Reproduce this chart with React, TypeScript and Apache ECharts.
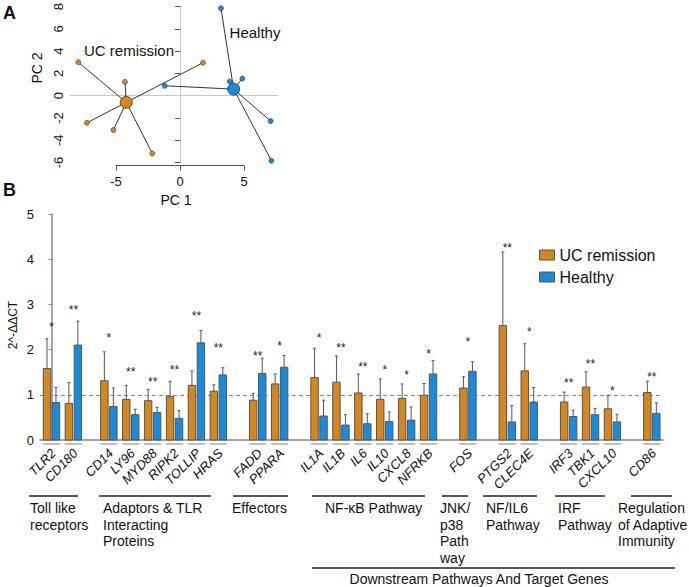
import React, { useEffect, useRef } from "react";
import * as echarts from "echarts";

// ---------- Panel A data (PCA) ----------
const ucPC1 = [-7.94, -4.3, 1.8, -7.27, -5.2, -2.16];
const ucPC2 = [3.0, 1.24, 2.96, -2.43, -3.08, -5.19];
const ucCentroid = [-4.2, -0.6];
const hPC1 = [3.2, 3.88, 4.87, -1.2, 7.08, 7.14];
const hPC2 = [7.85, 1.27, 1.54, 0.89, -2.28, -5.84];
const hCentroid = [4.19, 0.59];
const pc2Ticks = [-6, -4, -2, 0, 2, 4, 6, 8];
const pc1Ticks = [-5, 0, 5];

// ---------- Panel B data ----------
const genes = ["TLR2", "CD180", "CD14", "LY96", "MYD88", "RIPK2", "TOLLIP", "HRAS", "FADD", "PPARA", "IL1A", "IL1B", "IL6", "IL10", "CXCL8", "NFRKB", "FOS", "PTGS2", "CLEC4E", "IRF3", "TBK1", "CXCL10", "CD86"];
const geneGroup = [0, 0, 1, 1, 1, 1, 1, 1, 2, 2, 3, 3, 3, 3, 3, 3, 4, 5, 5, 6, 6, 6, 7];
const ucMean = [1.58, 0.81, 1.31, 0.9, 0.87, 0.96, 1.21, 1.08, 0.88, 1.24, 1.38, 1.28, 1.04, 0.9, 0.92, 0.99, 1.15, 2.53, 1.53, 0.84, 1.17, 0.69, 1.05];
const ucUpper = [2.24, 1.27, 1.95, 1.21, 1.12, 1.3, 1.53, 1.22, 1.03, 1.46, 2.03, 1.86, 1.46, 1.35, 1.24, 1.25, 1.4, 4.16, 2.13, 1.06, 1.51, 0.99, 1.3];
const hMean = [0.83, 2.1, 0.74, 0.56, 0.61, 0.48, 2.15, 1.44, 1.47, 1.61, 0.53, 0.33, 0.36, 0.41, 0.44, 1.46, 1.52, 0.4, 0.84, 0.52, 0.56, 0.4, 0.59];
const hUpper = [1.16, 2.63, 1.15, 0.68, 0.72, 0.65, 2.42, 1.6, 1.81, 1.87, 0.88, 0.56, 0.58, 0.62, 0.73, 1.76, 1.73, 0.76, 1.16, 0.66, 0.7, 0.57, 0.82];
const sig = ["*", "**", "*", "**", "**", "**", "**", "**", "**", "*", "*", "**", "**", "*", "*", "*", "*", "**", "*", "**", "**", "*", "**"];
const sigY = [2.57, 2.94, 2.32, 1.58, 1.35, 1.61, 2.8, 2.11, 1.93, 2.15, 2.32, 2.1, 1.69, 1.61, 1.5, 1.96, 2.24, 4.31, 2.45, 1.33, 1.74, 1.15, 1.47];
const yTicksB = [0, 1, 2, 3, 4, 5];
const seriesNames = ["UC remission", "Healthy"];

// layout: gap (in slot units) inserted before each group
const groupGap = [0, 0.62, 0.8, 0.8, 0.8, 0.8, 0.8, 0.8];
const groupShift = groupGap.map((_, g) => groupGap.slice(0, g + 1).reduce((a, b) => a + b, 0));
const positions = genes.map((_, i) => i + groupShift[geneGroup[i]]);

const ORANGE = "#D4871F";
const BLUE = "#1A8ADB";
const FONT = "Liberation Sans, Arial, sans-serif";

function barSeries(name: string, means: number[], uppers: number[], color: string, side: number) {
  return {
    type: "custom",
    name,
    xAxisIndex: 2,
    yAxisIndex: 2,
    z: 3,
    itemStyle: { color },
    data: means.map((m, i) => [positions[i], m, uppers[i]]),
    encode: { x: 0, y: [1, 2] },
    renderItem: (params: any, api: any) => {
      const x = api.value(0);
      const v = api.value(1);
      const u = api.value(2);
      const unit = api.size([1, 0])[0];
      const w = unit * 0.34;
      const base = api.coord([x, 0]);
      const cx = base[0] + side * unit * 0.205;
      const y0 = base[1];
      const y1 = api.coord([x, v])[1];
      const y2 = api.coord([x, u])[1];
      return {
        type: "group",
        children: [
          { type: "line", shape: { x1: cx, y1: y1, x2: cx, y2: y2 }, style: { stroke: "#555", lineWidth: 1 } },
          { type: "line", shape: { x1: cx - 1.5, y1: y2, x2: cx + 1.5, y2: y2 }, style: { stroke: "#555", lineWidth: 1 } },
          { type: "rect", shape: { x: cx - w / 2, y: y1, width: w, height: y0 - y1 }, style: { fill: color, stroke: "#555", lineWidth: 1 } },
        ],
      };
    },
  };
}

const annotationSeries = {
  type: "custom",
  name: "annotations",
  xAxisIndex: 2,
  yAxisIndex: 2,
  z: 1,
  silent: true,
  data: positions.map((p, i) => [p, sigY[i]]),
  encode: { x: 0, y: 1 },
  renderItem: (params: any, api: any) => {
    const i = params.dataIndex;
    const x = api.value(0);
    const base = api.coord([x, 0]);
    const unit = api.size([1, 0])[0];
    const sy = api.coord([x, api.value(1)])[1];
    return {
      type: "group",
      children: [
        {
          type: "text",
          x: base[0],
          y: sy + 3,
          style: { text: sig[i], font: `12px ${FONT}`, fill: "#222", align: "center", verticalAlign: "middle", textAlign: "center", textVerticalAlign: "middle" },
        },
        {
          type: "line",
          shape: { x1: base[0] - unit * 0.39, y1: base[1] + 4, x2: base[0] + unit * 0.39, y2: base[1] + 4 },
          style: { stroke: "#aaa", lineWidth: 1.5 },
        },
        {
          type: "text",
          x: base[0] + 2,
          y: base[1] + 11,
          rotation: Math.PI / 4,
          style: { text: genes[i], font: `italic 13px ${FONT}`, fill: "#111", align: "right", verticalAlign: "middle", textAlign: "right", textVerticalAlign: "middle" },
        },
      ],
    };
  },
  markLine: {
    silent: true,
    z: 1,
    symbol: ["none", "none"],
    label: { show: false },
    lineStyle: { color: "#888", type: [4, 3], width: 1 },
    data: [{ yAxis: 1 }],
  },
};

const groupLines: [number, number][] = [[29, 78], [99, 211], [233, 288], [312, 425], [442, 468], [483, 537], [555, 605], [631, 672]];
const groupTexts: { t: string; x: number; align?: string }[] = [
  { t: "Toll like\nreceptors", x: 30 },
  { t: "Adaptors & TLR\nInteracting\nProteins", x: 103 },
  { t: "Effectors", x: 232 },
  { t: "NF-κB Pathway", x: 325 },
  { t: "JNK/\np38\nPath\nway", x: 440 },
  { t: "NF/IL6\nPathway", x: 486 },
  { t: "IRF\nPathway", x: 558 },
  { t: "Regulation\nof Adaptive\nImmunity", x: 618 },
];

function buildOption() {
  const graphics: any[] = [];
  graphics.push({ type: "text", left: 3, top: 4, style: { text: "A", font: `bold 18px ${FONT}`, fill: "#111" } });
  graphics.push({ type: "text", left: 3, top: 181, style: { text: "B", font: `bold 18px ${FONT}`, fill: "#111" } });
  graphics.push({ type: "text", x: 129, y: 50, style: { text: "UC remission", font: `15px ${FONT}`, fill: "#111", textAlign: "center", textVerticalAlign: "middle" } });
  graphics.push({ type: "text", x: 255, y: 32, style: { text: "Healthy", font: `15px ${FONT}`, fill: "#111", textAlign: "center", textVerticalAlign: "middle" } });
  graphics.push({ type: "text", x: 37, y: 68, rotation: Math.PI / 2, style: { text: "PC 2", font: `14px ${FONT}`, fill: "#111", textAlign: "center", textVerticalAlign: "middle" } });
  graphics.push({ type: "text", x: 176, y: 200, style: { text: "PC 1", font: `14px ${FONT}`, fill: "#111", textAlign: "center", textVerticalAlign: "middle" } });
  graphics.push({ type: "text", x: 13, y: 325, rotation: Math.PI / 2, style: { text: "2^-ΔΔCT", font: `12px ${FONT}`, fill: "#111", textAlign: "center", textVerticalAlign: "middle" } });
  groupLines.forEach(([a, b]) => {
    graphics.push({ type: "line", shape: { x1: a, y1: 496, x2: b, y2: 496 }, style: { stroke: "#222", lineWidth: 1.5 } });
  });
  groupTexts.forEach((g) => {
    graphics.push({ type: "text", x: g.x, y: 500, style: { text: g.t, font: `14px ${FONT}`, fill: "#111", lineHeight: 16.5, textAlign: "left", textVerticalAlign: "top" } });
  });
  graphics.push({ type: "line", shape: { x1: 312, y1: 568, x2: 675, y2: 568 }, style: { stroke: "#222", lineWidth: 1.5 } });
  graphics.push({ type: "text", x: 479, y: 579, style: { text: "Downstream Pathways And Target Genes", font: `14px ${FONT}`, fill: "#111", textAlign: "center", textVerticalAlign: "middle" } });

  const ucPts = ucPC1.map((x, i) => [x, ucPC2[i]]);
  const hPts = hPC1.map((x, i) => [x, hPC2[i]]);

  return {
    animation: false,
    textStyle: { fontFamily: FONT },
    grid: [
      { left: 70, top: 5, width: 208, height: 157.5 },
      { left: 116, top: 150, width: 128, height: 15.7 },
      { left: 40, top: 214, width: 623, height: 226 },
    ],
    xAxis: [
      { gridIndex: 0, type: "value", min: -8.594, max: 7.656, show: false },
      {
        gridIndex: 1, type: "value", min: pc1Ticks[0], max: pc1Ticks[pc1Ticks.length - 1], interval: 5,
        axisLine: { lineStyle: { color: "#555", width: 1 } },
        axisTick: { length: 5, lineStyle: { color: "#555" } },
        axisLabel: { fontSize: 13, color: "#111", margin: 9 },
        splitLine: { show: false },
      },
      {
        gridIndex: 2, type: "value", min: -0.525, max: 27.93,
        axisLine: { lineStyle: { color: "#888", width: 1.5 } },
        axisTick: { show: false }, axisLabel: { show: false }, splitLine: { show: false },
      },
    ],
    yAxis: [
      {
        gridIndex: 0, type: "value", min: pc2Ticks[0], max: pc2Ticks[pc2Ticks.length - 1], interval: 2,
        axisLine: { show: true, lineStyle: { color: "#555", width: 1 } },
        axisTick: { show: true, length: 5, lineStyle: { color: "#555" } },
        axisLabel: { fontSize: 13, color: "#111", rotate: 90, margin: 12, verticalAlign: "middle" },
        splitLine: { show: false },
      },
      { gridIndex: 1, type: "value", show: false },
      {
        gridIndex: 2, type: "value", min: yTicksB[0], max: yTicksB[yTicksB.length - 1], interval: 1,
        axisLine: { show: true, lineStyle: { color: "#888", width: 1.5 } },
        axisTick: { show: true, length: 3, lineStyle: { color: "#888" } },
        axisLabel: { fontSize: 13, color: "#111", margin: 6 },
        splitLine: { show: false },
      },
    ],
    legend: {
      left: 534, top: 242, orient: "vertical", itemWidth: 15, itemHeight: 10, itemGap: 6,
      textStyle: { fontSize: 16, color: "#111" },
      data: [
        { name: seriesNames[0], icon: "rect", itemStyle: { color: ORANGE, borderColor: "#555", borderWidth: 1 } },
        { name: seriesNames[1], icon: "rect", itemStyle: { color: BLUE, borderColor: "#555", borderWidth: 1 } },
      ],
    },
    graphic: graphics,
    series: [
      {
        type: "lines", coordinateSystem: "cartesian2d", xAxisIndex: 0, yAxisIndex: 0, z: 2, silent: true,
        lineStyle: { color: "#333", width: 1, opacity: 1 },
        data: [...ucPts.map((p) => ({ coords: [ucCentroid, p] })), ...hPts.map((p) => ({ coords: [hCentroid, p] }))],
      },
      {
        type: "scatter", name: "pcaUC", xAxisIndex: 0, yAxisIndex: 0, z: 3, clip: false, symbolSize: 5,
        itemStyle: { color: ORANGE, borderColor: "#333", borderWidth: 0.6, opacity: 1 },
        data: ucPts,
        markLine: {
          silent: true, symbol: ["none", "none"], label: { show: false }, z: 1,
          lineStyle: { color: "#c8c8c8", type: "solid", width: 1 },
          data: [{ xAxis: 0 }, { yAxis: 0 }],
        },
      },
      {
        type: "scatter", name: "pcaH", xAxisIndex: 0, yAxisIndex: 0, z: 3, clip: false, symbolSize: 5,
        itemStyle: { color: BLUE, borderColor: "#333", borderWidth: 0.6, opacity: 1 },
        data: hPts,
      },
      {
        type: "scatter", name: "centroids", xAxisIndex: 0, yAxisIndex: 0, z: 4, clip: false, symbolSize: 12,
        data: [
          { value: ucCentroid, itemStyle: { color: ORANGE } },
          { value: hCentroid, itemStyle: { color: BLUE } },
        ],
        itemStyle: { borderColor: "#333", borderWidth: 0.8, opacity: 1 },
      },
      annotationSeries,
      barSeries(seriesNames[0], ucMean, ucUpper, ORANGE, -1),
      barSeries(seriesNames[1], hMean, hUpper, BLUE, 1),
    ],
  };
}

export default function App() {
  const ref = useRef<HTMLDivElement>(null);
  useEffect(() => {
    document.body.style.margin = "0";
    const chart = echarts.init(ref.current as HTMLDivElement, null, { renderer: "svg" });
    chart.setOption(buildOption() as any);
    return () => chart.dispose();
  }, []);
  return <div ref={ref} style={{ width: 689, height: 587 }} />;
}
